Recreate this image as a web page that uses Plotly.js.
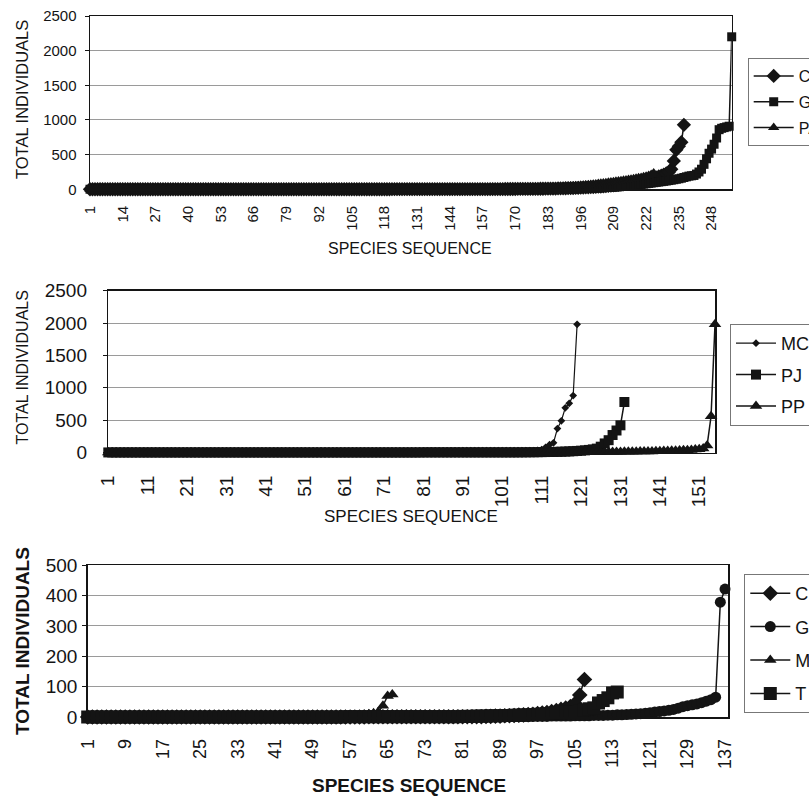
<!DOCTYPE html>
<html><head><meta charset="utf-8">
<script src="https://cdn.plot.ly/plotly-3.0.1.min.js"></script>
<style>html,body{margin:0;padding:0;background:#fff;overflow:hidden;width:809px;height:796px}#chart{width:880px;height:796px}</style>
</head><body><div id="chart"></div>
<script>
// ---------- Panel 1 ----------
const p1XTicks = [1,14,27,40,53,66,79,92,105,118,131,144,157,170,183,196,209,222,235,248];
const p1YTicks = [0,500,1000,1500,2000,2500];
const p1Names = ["C","G","PA"];
const p1C = [
1,1,1,1,1,1,1,1,1,1, 1,1,1,1,1,1,1,1,1,1, 1,1,1,1,1,1,1,1,1,1, 1,1,1,1,1,1,1,1,1,1,
1,1,1,1,1,1,1,1,1,1, 1,1,1,1,1,1,1,1,1,1, 1,1,1,1,1,1,1,1,1,1, 1,1,1,1,1,1,1,1,1,1,
1,1,1,1,1,1,1,1,1,1, 1,1,1,1,1,1,1,1,1,1, 1,1,1,1,1,1,1,1,1,1, 1,1,1,1,1,1,1,1,1,1,
2,2,2,2,2,2,2,2,2,2, 2,2,2,2,2,2,2,2,2,2, 2,2,2,2,2,2,2,2,2,2, 2,2,2,2,2,2,2,2,2,2,
3,3,3,3,3,4,4,4,4,4,5,5,5,5,6,6,6,7,7,8,
8,9,9,10,10,11,12,13,14,15,16,17,18,20,21,23,25,27,29,31,
33,35,38,40,43,46,49,52,56,60,64,68,72,77,82,88,94,100,107,115,
123,131,140,150,160,172,185,198,212,228,245,
290,410,570,620,680,930];
const p1G = [
1,1,1,1,1,1,1,1,1,1, 1,1,1,1,1,1,1,1,1,1, 1,1,1,1,1,1,1,1,1,1, 1,1,1,1,1,1,1,1,1,1,
1,1,1,1,1,1,1,1,1,1, 1,1,1,1,1,1,1,1,1,1, 1,1,1,1,1,1,1,1,1,1, 1,1,1,1,1,1,1,1,1,1,
1,1,1,1,1,1,1,1,1,1, 1,1,1,1,1,1,1,1,1,1, 1,1,1,1,1,1,1,1,1,1, 1,1,1,1,1,1,1,1,1,1,
1,1,1,1,1,1,1,1,1,1,
2,2,2,2,2,2,2,2,2,2, 2,2,2,2,2,2,2,2,2,2, 2,2,2,2,2,2,2,2,2,2, 2,2,2,2,2,2,2,2,2,2,
3,3,3,3,3,4,4,4,4,5,5,5,5,6,6,6,7,7,8,8,9,9,10,10,11,
12,13,14,15,16,18,19,21,22,24,26,28,30,32,34,37,40,43,46,50,
54,58,62,66,70,75,80,85,90,95,100,105,110,115,120,126,132,138,145,152,
160,170,180,190,195,200,220,250,290,360,440,520,
580,650,740,860,880,890,900,910,
2200];
const p1PA = [
1,1,1,1,1,1,1,1,1,1, 1,1,1,1,1,1,1,1,1,1, 1,1,1,1,1,1,1,1,1,1, 1,1,1,1,1,1,1,1,1,1,
1,1,1,1,1,1,1,1,1,1, 1,1,1,1,1,1,1,1,1,1, 1,1,1,1,1,1,1,1,1,1, 1,1,1,1,1,1,1,1,1,1,
1,1,1,1,1,1,1,1,1,1, 1,1,1,1,1,1,1,1,1,1, 1,1,1,1,1,1,1,1,1,1,
2,2,2,2,2,2,2,2,2,2, 2,2,2,2,2,2,2,2,2,2, 2,2,2,2,2,2,2,2,2,2, 2,2,2,2,2,2,2,2,2,2,
3,3,3,3,4,4,4,4,5,5,5,6,6,6,7,7,8,8,9,9,10,11,12,13,14,
15,16,17,18,19,20,22,24,26,28,30,32,34,36,38,40,43,46,49,52,55,58,62,66,70,
74,78,82,86,90,95,100,105,110,115,120,125,130,135,140,146,152,158,165,172,180,190,200,215,235];

// ---------- Panel 2 ----------
const p2XTicks = [1,11,21,31,41,51,61,71,81,91,101,111,121,131,141,151];
const p2YTicks = [0,500,1000,1500,2000,2500];
const p2Names = ["MC","PJ","PP"];
const p2MC = [
1,1,1,1,1,1,1,1,1,1, 1,1,1,1,1,1,1,1,1,1, 1,1,1,1,1,1,1,1,1,1, 1,1,1,1,1,1,1,1,1,1,
1,1,1,1,1,1,1,1,1,1, 1,1,1,1,1,1,1,1,1,1, 1,1,1,1,1,1,1,1,1,1,
2,2,2,2,2,2,2,2,2,2, 2,2,2,2,2,2,2,2,2,2, 2,2,2,2,2,
3,3,4,4,5,5,6,7,8,9,
11,14,18,24,32,45,80,120,
150,370,490,690,760,880,1980];
const p2PJ = [
1,1,1,1,1,1,1,1,1,1, 1,1,1,1,1,1,1,1,1,1, 1,1,1,1,1,1,1,1,1,1, 1,1,1,1,1,1,1,1,1,1,
1,1,1,1,1,1,1,1,1,1, 1,1,1,1,1,1,1,1,1,1, 1,1,1,1,1,1,1,1,1,1, 1,1,1,1,1,1,1,1,1,1,
2,2,2,2,2,2,2,2,2,2, 2,2,2,2,2,2,2,2,2,2, 2,2,2,2,2,
3,3,4,4,5,6,7,8,9,10,
12,14,17,20,24,28,33,40,48,
60,90,140,190,270,340,420,780];
const p2PP = [
1,1,1,1,1,1,1,1,1,1, 1,1,1,1,1,1,1,1,1,1, 1,1,1,1,1,1,1,1,1,1, 1,1,1,1,1,1,1,1,1,1,
1,1,1,1,1,1,1,1,1,1, 1,1,1,1,1,1,1,1,1,1, 1,1,1,1,1,1,1,1,1,1, 1,1,1,1,1,1,1,1,1,1,
1,1,1,1,1,1,1,1,1,1,
2,2,2,2,2,2,2,2,2,2, 2,2,2,2,2,2,2,2,2,2, 2,2,2,2,2,2,2,2,2,2,
3,3,4,4,5,5,6,6,7,8,
9,10,11,12,13,14,15,16,17,18,20,22,24,26,28,30,33,36,40,45,52,60,
110,560,1980];

// ---------- Panel 3 ----------
const p3XTicks = [1,9,17,25,33,41,49,57,65,73,81,89,97,105,113,121,129,137];
const p3YTicks = [0,100,200,300,400,500];
const p3Names = ["C","G","M","T"];
const p3C = [
1,1,1,1,1,1,1,1,1,1, 1,1,1,1,1,1,1,1,1,1, 1,1,1,1,1,1,1,1,1,1, 1,1,1,1,1,1,1,1,1,1,
1,1,1,1,1,1,1,1,1,1, 1,1,1,1,1,1,1,1,1,1,
2,2,2,2,2,2,2,2,2,2, 2,2,2,2,2,2,2,2,2,2, 2,2,2,2,2,
3,3,4,4,5,5,6,7,8,9,
10,12,14,16,19,22,26,30,35,45,
73,124];
const p3G = [
1,1,1,1,1,1,1,1,1,1, 1,1,1,1,1,1,1,1,1,1, 1,1,1,1,1,1,1,1,1,1, 1,1,1,1,1,1,1,1,1,1,
1,1,1,1,1,1,1,1,1,1, 1,1,1,1,1,1,1,1,1,1, 1,1,1,1,1,1,1,1,1,1,
2,2,2,2,2,2,2,2,2,2, 2,2,2,2,2,2,2,2,2,2, 2,2,2,2,2,
3,3,3,3,4,4,4,4,4,5,5,5,5,6,6,
6,7,7,8,8,9,10,11,12,13,15,17,19,21,23,
26,30,35,38,41,44,48,53,58,
66,378,421];
const p3M = [
1,1,1,1,1,1,1,1,1,1, 1,1,1,1,1,1,1,1,1,1, 1,1,1,1,1,1,1,1,1,1, 1,1,1,1,1,1,1,1,1,1,
2,2,2,2,2,2,2,2,2,2, 2,2,2,2,2,
3,4,5,6,8,10,13,
17,38,70,75];
const p3T = [
1,1,1,1,1,1,1,1,1,1, 1,1,1,1,1,1,1,1,1,1, 1,1,1,1,1,1,1,1,1,1, 1,1,1,1,1,1,1,1,1,1,
1,1,1,1,1,1,1,1,1,1, 1,1,1,1,1,
2,2,2,2,2,2,2,2,2,2, 2,2,2,2,2,2,2,2,2,2, 2,2,2,2,2,
3,3,3,4,4,4,5,5,5,6,6,7,7,8,8,
9,10,11,12,13,14,15,16,17,18,20,
24,28,31,47,55,64,80,83];

// ---------- build ----------
const W = 880, H = 796;   // paper is wider than the 809px window so the legends run off the edge, as in the reference
const FONT = "Liberation Sans, Arial, Helvetica, sans-serif";
const INK = "#141414";
const px = v => v / W;
const py = v => 1 - v / H;

function mk(vals, name, xa, ya, leg, symbol, size, lw) {
  return {
    type: "scatter", mode: "lines+markers", name: name,
    x: vals.map((_, i) => i + 1), y: vals,
    xaxis: xa, yaxis: ya, legend: leg, legendgroup: leg + name,
    cliponaxis: false,
    line: {color: INK, width: lw},
    marker: {symbol: symbol, size: size, color: INK, line: {width: 0}}
  };
}

const data = [
  mk(p1C, p1Names[0], "x", "y", "legend", "diamond", 11, 1.5),
  mk(p1G, p1Names[1], "x", "y", "legend", "square", 9, 1.5),
  mk(p1PA, p1Names[2], "x", "y", "legend", "triangle-up", 10, 1.5),
  mk(p2MC, p2Names[0], "x2", "y2", "legend2", "diamond", 6, 1.2),
  mk(p2PJ, p2Names[1], "x2", "y2", "legend2", "square", 10, 1.5),
  mk(p2PP, p2Names[2], "x2", "y2", "legend2", "triangle-up", 11, 1.5),
  mk(p3C, p3Names[0], "x3", "y3", "legend3", "diamond", 12, 1.5),
  mk(p3G, p3Names[1], "x3", "y3", "legend3", "circle", 11, 1.5),
  mk(p3M, p3Names[2], "x3", "y3", "legend3", "triangle-up", 11, 1.5),
  mk(p3T, p3Names[3], "x3", "y3", "legend3", "square", 13, 1.5)
];

function xax(domain, range, ticks, fsize, standoff, anchor) {
  return {
    domain: domain, range: range, anchor: anchor, type: "linear",
    tickmode: "array", tickvals: ticks, ticktext: ticks.map(String),
    tickangle: -90, ticks: "", ticklabelstandoff: standoff,
    tickfont: {family: FONT, size: fsize, color: INK},
    showgrid: false, zeroline: false, showline: true, linecolor: INK, linewidth: 1.5, mirror: true,
    fixedrange: true
  };
}
function yax(domain, range, ticks, fsize, standoff, anchor) {
  return {
    domain: domain, range: range, anchor: anchor,
    tickmode: "array", tickvals: ticks, ticktext: ticks.map(String),
    ticks: "outside", ticklen: 4, tickcolor: INK, tickwidth: 1, ticklabelstandoff: standoff,
    tickfont: {family: FONT, size: fsize, color: INK},
    showgrid: true, gridcolor: "#9a9a9a", gridwidth: 1,
    zeroline: false, showline: true, linecolor: INK, linewidth: 1.5, mirror: true,
    fixedrange: true
  };
}
function leg(x, ytop, fsize, gap) {
  return {
    x: px(x), y: py(ytop), xanchor: "left", yanchor: "top",
    xref: "paper", yref: "paper",
    bgcolor: "#fff", bordercolor: "#777", borderwidth: 1,
    font: {family: FONT, size: fsize, color: INK},
    tracegroupgap: gap, itemwidth: 40
  };
}
function ann(text, x, y, size, bold, angle) {
  return {
    text: bold ? "<b>" + text + "</b>" : text, xref: "paper", yref: "paper",
    x: px(x), y: py(y), xanchor: "center", yanchor: "middle", showarrow: false,
    textangle: angle || 0, font: {family: FONT, size: size, color: INK}
  };
}

const layout = {
  width: W, height: H,
  margin: {l: 0, r: 0, t: 0, b: 0, pad: 0},
  paper_bgcolor: "#fff", plot_bgcolor: "#fff",
  showlegend: true,
  xaxis: xax([px(90), px(731.7)], [1, 256], p1XTicks, 15, 9, "y"),
  yaxis: yax([py(189.3), py(16)], [0, 2500], p1YTicks, 15, 5, "x"),
  xaxis2: xax([px(108.3), px(715)], [1, 155], p2XTicks, 19, 14, "y2"),
  yaxis2: yax([py(452.5), py(290.7)], [0, 2500], p2YTicks, 19, 12, "x2"),
  xaxis3: xax([px(87.7), px(728.3)], [1, 137.7], p3XTicks, 18, 13, "y3"),
  yaxis3: yax([py(717.3), py(565)], [0, 500], p3YTicks, 19, 1, "x3"),
  legend: leg(747.7, 58, 16, 2),
  legend2: leg(730, 324, 18, 5),
  legend3: leg(744.3, 574, 18, 7),
  annotations: [
    ann("SPECIES SEQUENCE", 410, 248, 16, false),
    ann("TOTAL INDIVIDUALS", 22, 100, 16.5, false, -90),
    ann("SPECIES SEQUENCE", 411, 516.7, 17, false),
    ann("TOTAL INDIVIDUALS", 22, 367.5, 16, false, -90),
    ann("SPECIES SEQUENCE", 409, 785, 19, true),
    ann("TOTAL INDIVIDUALS", 22, 641, 19, true, -90)
  ]
};

Plotly.newPlot("chart", data, layout, {staticPlot: true, displayModeBar: false});
</script>
</body></html>
